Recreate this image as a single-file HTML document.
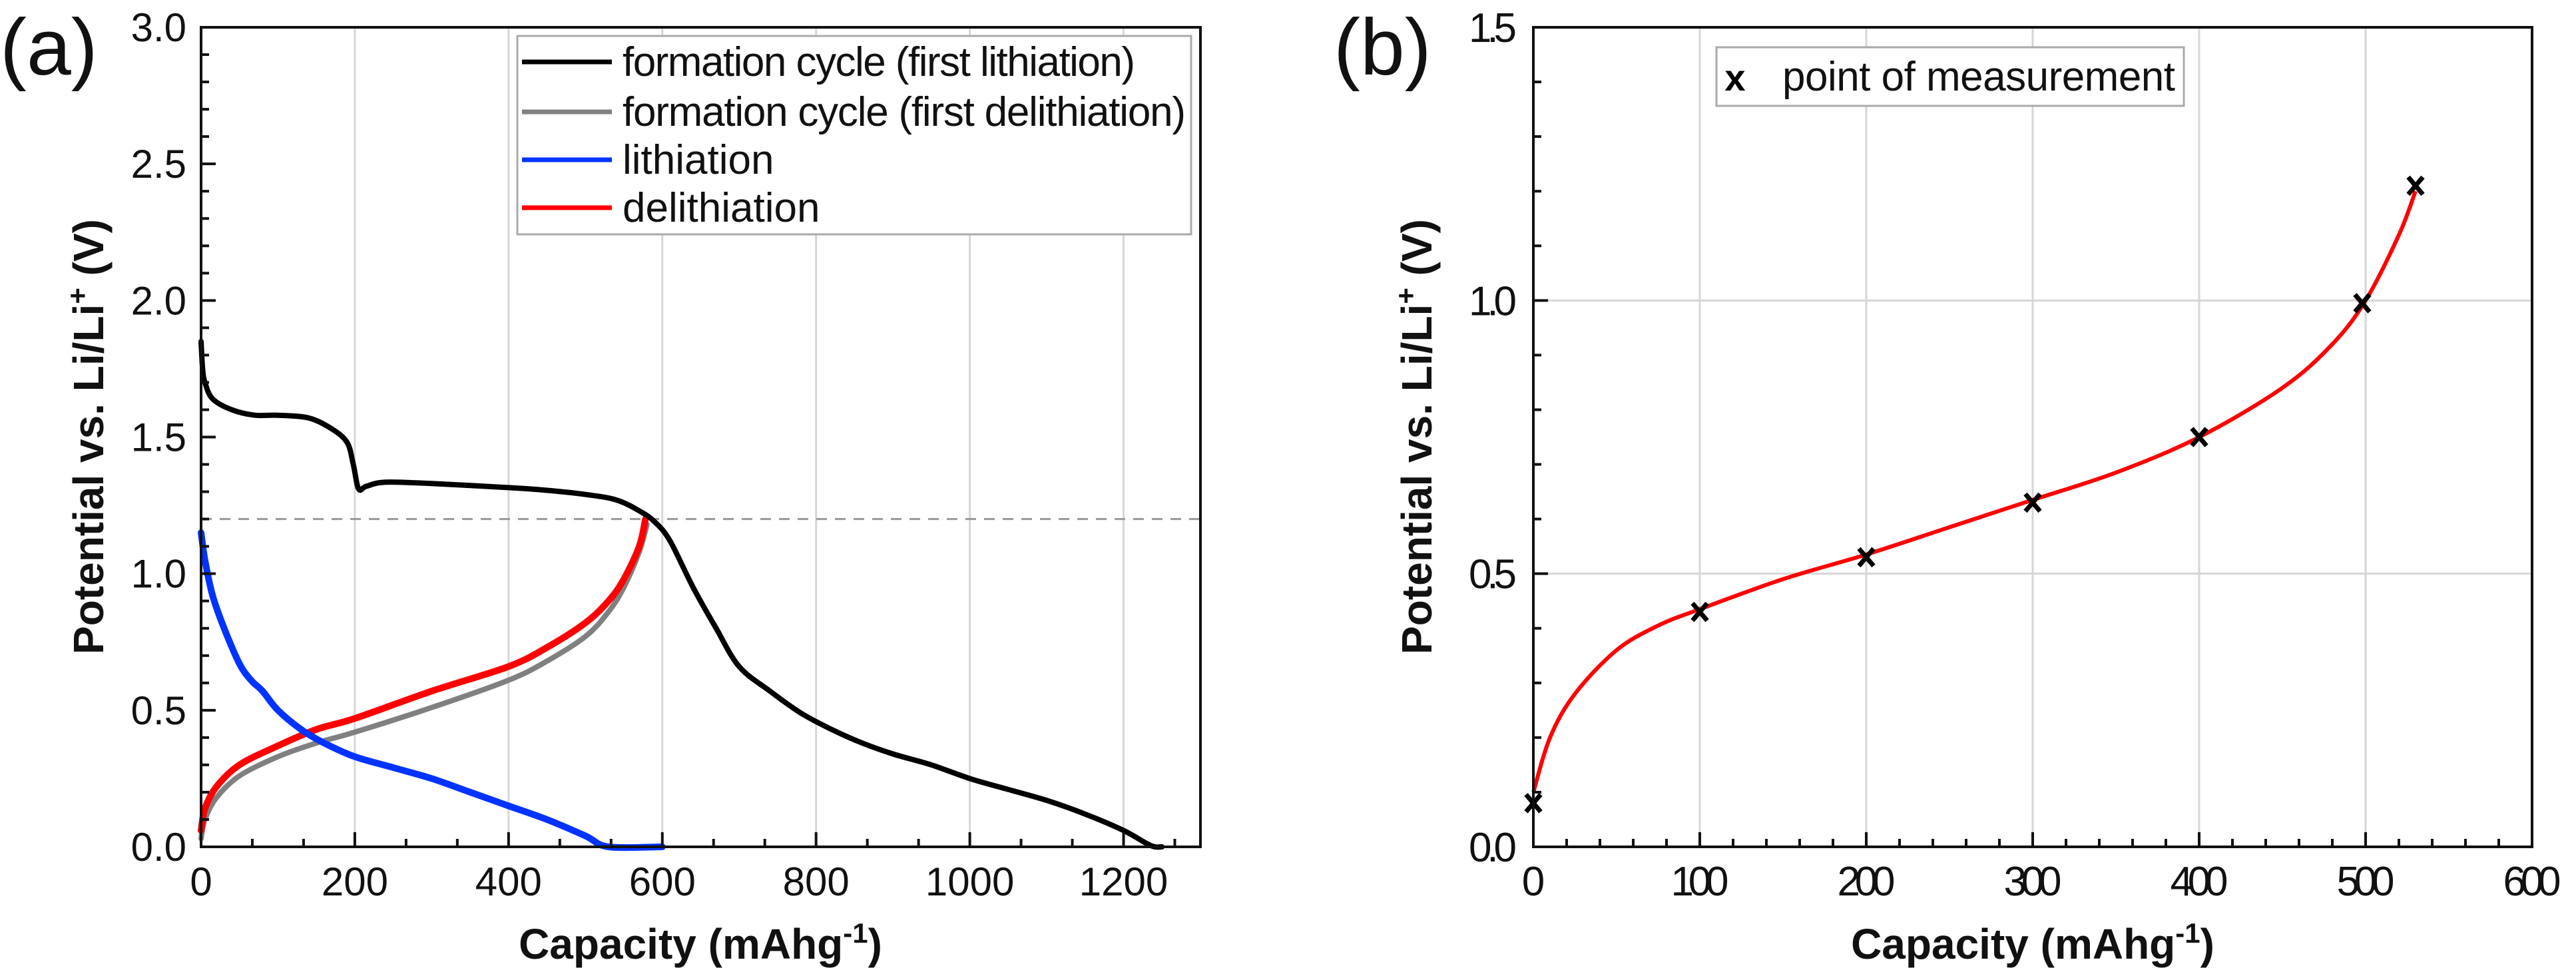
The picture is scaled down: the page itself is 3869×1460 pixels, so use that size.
<!DOCTYPE html>
<html><head><meta charset="utf-8"><style>
html,body{margin:0;padding:0;background:#fff;}
svg{display:block;}
text{font-family:"Liberation Sans",Arial,sans-serif;}
</style></head><body>
<svg id="fig" width="3869" height="1460" viewBox="0 0 3869 1460" xmlns="http://www.w3.org/2000/svg">
<g id="pa"></g>
<g id="pb"></g>
</svg>
<script>
// ---------- Panel (a) data ----------
const aXTicks = [0,200,400,600,800,1000,1200];
const aYTicks = [0.0,0.5,1.0,1.5,2.0,2.5,3.0];
const blackX = [0,2,5,15,40,70,100,140,170,190,198,205,215,240,300,400,450,500,540,570,590,610,640,670,700,740,780,820,860,900,950,1000,1050,1100,1150,1200,1235,1250];
const blackY = [1.85,1.75,1.7,1.64,1.6,1.58,1.58,1.57,1.53,1.48,1.4,1.31,1.32,1.335,1.33,1.315,1.305,1.29,1.27,1.23,1.19,1.12,0.95,0.8,0.66,0.57,0.49,0.43,0.38,0.34,0.3,0.25,0.21,0.17,0.12,0.06,0.005,0];
const grayX = [0,5,20,50,100,150,200,300,400,450,500,530,550,570,580];
const grayY = [0.03,0.1,0.18,0.26,0.33,0.38,0.42,0.51,0.61,0.68,0.77,0.86,0.95,1.08,1.18];
const redX = [0,5,20,50,100,150,200,300,400,450,500,530,550,570,578];
const redY = [0.06,0.14,0.22,0.3,0.37,0.43,0.47,0.57,0.66,0.73,0.82,0.9,0.98,1.1,1.2];
const blueX = [0,5,15,30,50,65,80,100,130,160,200,250,300,350,400,450,500,530,600];
const blueY = [1.15,1.05,0.92,0.8,0.67,0.61,0.57,0.5,0.43,0.38,0.33,0.29,0.25,0.2,0.15,0.1,0.04,0,0];
const cutoffV = [1.2];
const aLegend = ["formation cycle (first lithiation)","formation cycle (first delithiation)","lithiation","delithiation"];
// ---------- Panel (b) data ----------
const bXTicks = [0,100,200,300,400,500,600];
const bYTicks = [0.0,0.5,1.0,1.5];
const measX = [0,100,200,300,400,498,530];
const measY = [0.08,0.43,0.53,0.63,0.75,0.995,1.21];
const fitX = [0,10,25,50,75,100,150,200,250,300,350,400,450,480,500,520,530];
const fitY = [0.1,0.2,0.28,0.36,0.405,0.435,0.49,0.535,0.585,0.635,0.685,0.75,0.84,0.92,1.0,1.12,1.2];

const NS="http://www.w3.org/2000/svg";
function mk(parent,tag,attrs,txt){const e=document.createElementNS(NS,tag);for(const k in attrs)e.setAttribute(k,attrs[k]);if(txt!==undefined)e.textContent=txt;parent.appendChild(e);return e;}

const A={x0:302,x1:1803,y0:1272,y1:41,xmin:0,xmax:1300,ymin:0,ymax:3};
const B={x0:2303,x1:3803,y0:1272,y1:41,xmin:0,xmax:600,ymin:0,ymax:1.5};
function sx(ax,v){return ax.x0+(v-ax.xmin)/(ax.xmax-ax.xmin)*(ax.x1-ax.x0);}
function sy(ax,v){return ax.y0-(v-ax.ymin)/(ax.ymax-ax.ymin)*(ax.y0-ax.y1);}
function pathD(ax,xs,ys){return xs.map((x,i)=>(i?'L':'M')+sx(ax,x).toFixed(1)+' '+sy(ax,ys[i]).toFixed(1)).join(' ');}
function smoothD(ax,xs,ys){const p=xs.map((x,i)=>[sx(ax,x),sy(ax,ys[i])]);let d='M'+p[0][0]+' '+p[0][1];
 for(let i=0;i<p.length-1;i++){const p0=p[i-1]||p[i],p1=p[i],p2=p[i+1],p3=p[i+2]||p2;
 const c1=[p1[0]+(p2[0]-p0[0])/6,p1[1]+(p2[1]-p0[1])/6],c2=[p2[0]-(p3[0]-p1[0])/6,p2[1]-(p3[1]-p1[1])/6];
 d+=' C'+c1[0].toFixed(1)+' '+c1[1].toFixed(1)+' '+c2[0].toFixed(1)+' '+c2[1].toFixed(1)+' '+p2[0].toFixed(1)+' '+p2[1].toFixed(1);}return d;}

// ================= Panel A =================
const pa=document.getElementById('pa');
aXTicks.forEach(v=>{if(v>0){const g=mk(pa,'line',{x1:sx(A,v),x2:sx(A,v),y1:A.y1,y2:A.y0,stroke:'#d6d6d6','stroke-width':3});

}});
const dash=mk(pa,'line',{x1:A.x0,x2:A.x1,y1:sy(A,cutoffV[0]),y2:sy(A,cutoffV[0]),stroke:'#999','stroke-width':3,'stroke-dasharray':'16 12'});


const sA=[[grayX,grayY,'#808080',8,'series-first-delithiation'],[redX,redY,'#ff0000',10,'series-delithiation'],[blueX,blueY,'#0033ff',10,'series-lithiation'],[blackX,blackY,'#000',8,'series-first-lithiation']];
sA.forEach(s=>{const p=mk(pa,'path',{d:smoothD(A,s[0],s[1]),fill:'none',stroke:s[2],'stroke-width':s[3],'stroke-linejoin':'round','stroke-linecap':'round'});

});
const fa=mk(pa,'rect',{x:A.x0,y:A.y1,width:A.x1-A.x0,height:A.y0-A.y1,fill:'none',stroke:'#111','stroke-width':4});


for(let v=0;v<=1300.1;v+=200/3){const major=Math.abs(v/200-Math.round(v/200))<1e-6;const x=sx(A,v);
 const t=mk(pa,'line',{x1:x,x2:x,y1:A.y0,y2:A.y0-(major?22:12),stroke:'#111','stroke-width':4});
 
 }
for(let i=0;i<=30;i++){const v=i/10;const y=sy(A,v);const major=i%5===0;
 const t=mk(pa,'line',{x1:A.x0,x2:A.x0+(major?22:12),y1:y,y2:y,stroke:'#111','stroke-width':4});
 
 }
aXTicks.forEach(v=>{const t=mk(pa,'text',{x:sx(A,v),y:1345,'font-size':60,'text-anchor':'middle',fill:'#111'},String(v));

});
aYTicks.forEach(v=>{const t=mk(pa,'text',{x:280,y:sy(A,v)+21,'font-size':60,'text-anchor':'end',fill:'#111'},v.toFixed(1));

});
const xta=mk(pa,'text',{x:1052,y:1440,'font-size':64,'font-weight':'bold','text-anchor':'middle',fill:'#111'});
xta.innerHTML='Capacity (mAhg<tspan dy="-24" font-size="42">-1</tspan><tspan dy="24">)</tspan>';


const yta=mk(pa,'text',{x:0,y:0,'font-size':64,'font-weight':'bold','text-anchor':'middle',fill:'#111',transform:'translate(155,656) rotate(-90)'});
yta.innerHTML='Potential vs. Li/Li<tspan dy="-24" font-size="42">+</tspan><tspan dy="24"> (V)</tspan>';


const la=mk(pa,'text',{x:0,y:112,'font-size':120,fill:'#111'},'(a)');


const lg=mk(pa,'g',{});


mk(lg,'rect',{x:777,y:54,width:1012,height:298,fill:'#fff',stroke:'#aaa','stroke-width':3});
const legCol=['#000','#808080','#0033ff','#ff0000'];const legY=[93,168,240,312];
aLegend.forEach((s,i)=>{const l=mk(lg,'line',{x1:784,x2:919,y1:legY[i],y2:legY[i],stroke:legCol[i],'stroke-width':7});


const t=mk(lg,'text',{x:935,y:legY[i]+21,'font-size':62,fill:'#111'},s);
if(i<2)t.setAttribute('textLength',i===0?770:846);

});

// ================= Panel B =================
const pb=document.getElementById('pb');
bXTicks.forEach(v=>{if(v>0&&v<600){const g=mk(pb,'line',{x1:sx(B,v),x2:sx(B,v),y1:B.y1,y2:B.y0,stroke:'#d6d6d6','stroke-width':3});

}});
bYTicks.forEach(v=>{if(v>0&&v<1.5){const g=mk(pb,'line',{x1:B.x0,x2:B.x1,y1:sy(B,v),y2:sy(B,v),stroke:'#d6d6d6','stroke-width':3});

}});
const fit=mk(pb,'path',{d:smoothD(B,fitX,fitY),fill:'none',stroke:'#ff0000','stroke-width':6});


measX.forEach((x,i)=>{const cx=sx(B,x),cy=sy(B,measY[i]);const m=mk(pb,'path',{d:`M${cx-11} ${cy-13}L${cx+11} ${cy+13}M${cx+11} ${cy-13}L${cx-11} ${cy+13}`,stroke:'#000','stroke-width':7,fill:'none'});

});
const fb=mk(pb,'rect',{x:B.x0,y:B.y1,width:B.x1-B.x0,height:B.y0-B.y1,fill:'none',stroke:'#111','stroke-width':4});


for(let v=0;v<=600.1;v+=20){const major=v%100===0;const x=sx(B,v);
 const t=mk(pb,'line',{x1:x,x2:x,y1:B.y0,y2:B.y0-(major?22:12),stroke:'#111','stroke-width':4});
 
 }
for(let i=0;i<=15;i++){const y=sy(B,i/10);const major=i%5===0;
 const t=mk(pb,'line',{x1:B.x0,x2:B.x0+(major?22:12),y1:y,y2:y,stroke:'#111','stroke-width':4});
 
 }
bXTicks.forEach(v=>{const t=mk(pb,'text',{x:sx(B,v),y:1345,'font-size':62,'text-anchor':'middle',fill:'#111'},String(v));
t.setAttribute('textLength',String(v).length*29);

});
bYTicks.forEach(v=>{const t=mk(pb,'text',{x:2278,y:sy(B,v)+22,'font-size':62,'text-anchor':'end',fill:'#111'},v.toFixed(1));
t.setAttribute('textLength',72);

});
const xtb=mk(pb,'text',{x:3053,y:1440,'font-size':64,'font-weight':'bold','text-anchor':'middle',fill:'#111'});
xtb.innerHTML='Capacity (mAhg<tspan dy="-24" font-size="42">-1</tspan><tspan dy="24">)</tspan>';


const ytb=mk(pb,'text',{x:0,y:0,'font-size':64,'font-weight':'bold','text-anchor':'middle',fill:'#111',transform:'translate(2150,656) rotate(-90)'});
ytb.innerHTML='Potential vs. Li/Li<tspan dy="-24" font-size="42">+</tspan><tspan dy="24"> (V)</tspan>';


const lb=mk(pb,'text',{x:2003,y:112,'font-size':120,fill:'#111'},'(b)');


const lgb=mk(pb,'g',{});


mk(lgb,'rect',{x:2578,y:71,width:702,height:88,fill:'#fff',stroke:'#aaa','stroke-width':3});
const lx=mk(lgb,'text',{x:2606,y:136,'font-size':56,'font-weight':'bold','text-anchor':'middle',fill:'#000'},'x');


const lt=mk(lgb,'text',{x:2677,y:136,'font-size':62,fill:'#111',textLength:590},'point of measurement');


</script>
</body></html>
